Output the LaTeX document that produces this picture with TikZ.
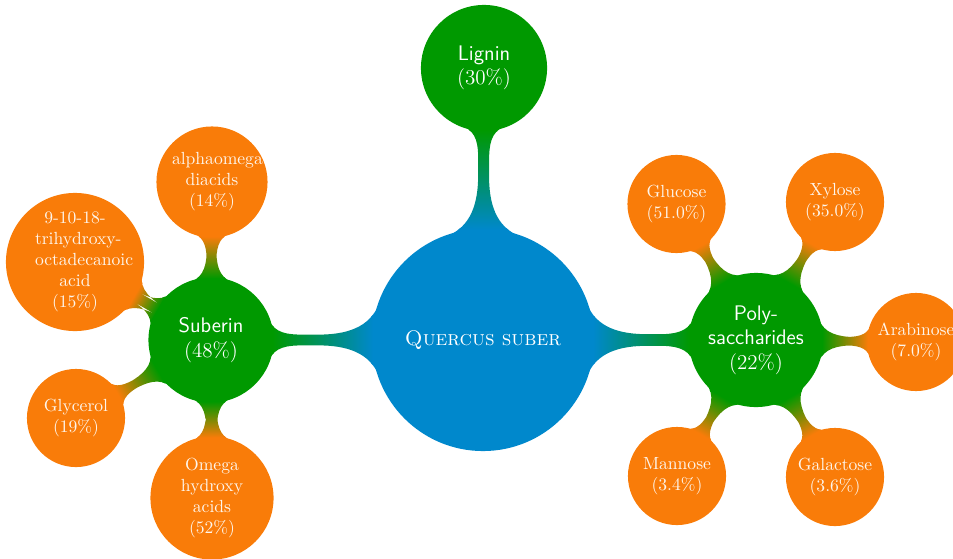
\documentclass[tikz,border=0pt]{standalone}
\usepackage{tikz}
\usetikzlibrary{mindmap}
\definecolor{rootblue}{RGB}{0,136,204}
\definecolor{subgreen}{RGB}{0,153,0}
\definecolor{leaforange}{RGB}{249,124,9}
\tikzset{
	rootconcept/.style={concept color=rootblue, concept, text=white, font=\large\scshape, minimum size=4.4cm, text width=3.8cm, inner sep=0pt},
	mainconcept/.style={concept color=subgreen, concept, text=white, font=\large, minimum size=2.46cm, text width=2cm, inner sep=0pt},
	leafconcept/.style={concept color=leaforange, concept, text=white!92!leaforange, font=\normalsize, minimum size=1.92cm, text width=1.6cm, inner sep=0pt},
	rootbar/.style={circle connection bar switch color=from (rootblue) to (subgreen)},
	leafbar/.style={circle connection bar switch color=from (subgreen) to (leaforange)},
}
\begin{document}
\begin{tikzpicture}[mindmap]
	%%%%% START %%%%%
	\useasboundingbox (0, 0) rectangle (19.06, 11.16);

	\node[rootconcept] (quercus) at (9.66, 4.36) {Quercus suber};

	\node[mainconcept, minimum size=2.48cm] (lignin) at (9.68, 9.8) {{\sffamily Lignin}\\(30\%)};
	\node[mainconcept] (suberin) at (4.22, 4.36) {{\sffamily Suberin}\\(48\%)};
	\node[mainconcept, minimum size=2.64cm] (poly) at (15.12, 4.36) {{\sffamily Poly-}\\{\sffamily saccharides}\\(22\%)};

	% suberin
	\node[leafconcept, minimum size=2.18cm] (alphaomega) at (4.24, 7.52) {alphaomega\\diacids\\(14\%)};
	\node[leafconcept, minimum size=2.72cm] (trihydroxy) at (1.5, 5.92) {9-10-18-\\trihydroxy-\mbox{octadecanoic}\\acid\\(15\%)};
	\node[leafconcept] (glycerol) at (1.52, 2.8) {Glycerol\\(19\%)};
	\node[leafconcept, minimum size=2.42cm] (omega) at (4.24, 1.2) {Omega\\hydroxy\\acids\\(52\%)};

	% polysaccharides
	\node[leafconcept] (glucose) at (13.53, 7.08) {Glucose\\(51.0\%)};
	\node[leafconcept] (xylose) at (16.7, 7.12) {Xylose\\(35.0\%)};
	\node[leafconcept] (arabinose) at (18.32, 4.32) {Arabinose\\(7.0\%)};
	\node[leafconcept] (mannose) at (13.54, 1.64) {Mannose\\(3.4\%)};
	\node[leafconcept] (galactose) at (16.7, 1.62) {Galactose\\(3.6\%)};

	\path (quercus) to[rootbar] (lignin);
	\path (quercus) to[rootbar] (suberin);
	\path (quercus) to[rootbar] (poly);

	\path (suberin) to[leafbar] (alphaomega);
	\path (suberin) to[leafbar] (trihydroxy);
	\path (suberin) to[leafbar] (glycerol);
	\path (suberin) to[leafbar] (omega);

	\path (poly) to[leafbar] (glucose);
	\path (poly) to[leafbar] (xylose);
	\path (poly) to[leafbar] (arabinose);
	\path (poly) to[leafbar] (mannose);
	\path (poly) to[leafbar] (galactose);

	%%%%% END %%%%%
\end{tikzpicture}
\end{document}
